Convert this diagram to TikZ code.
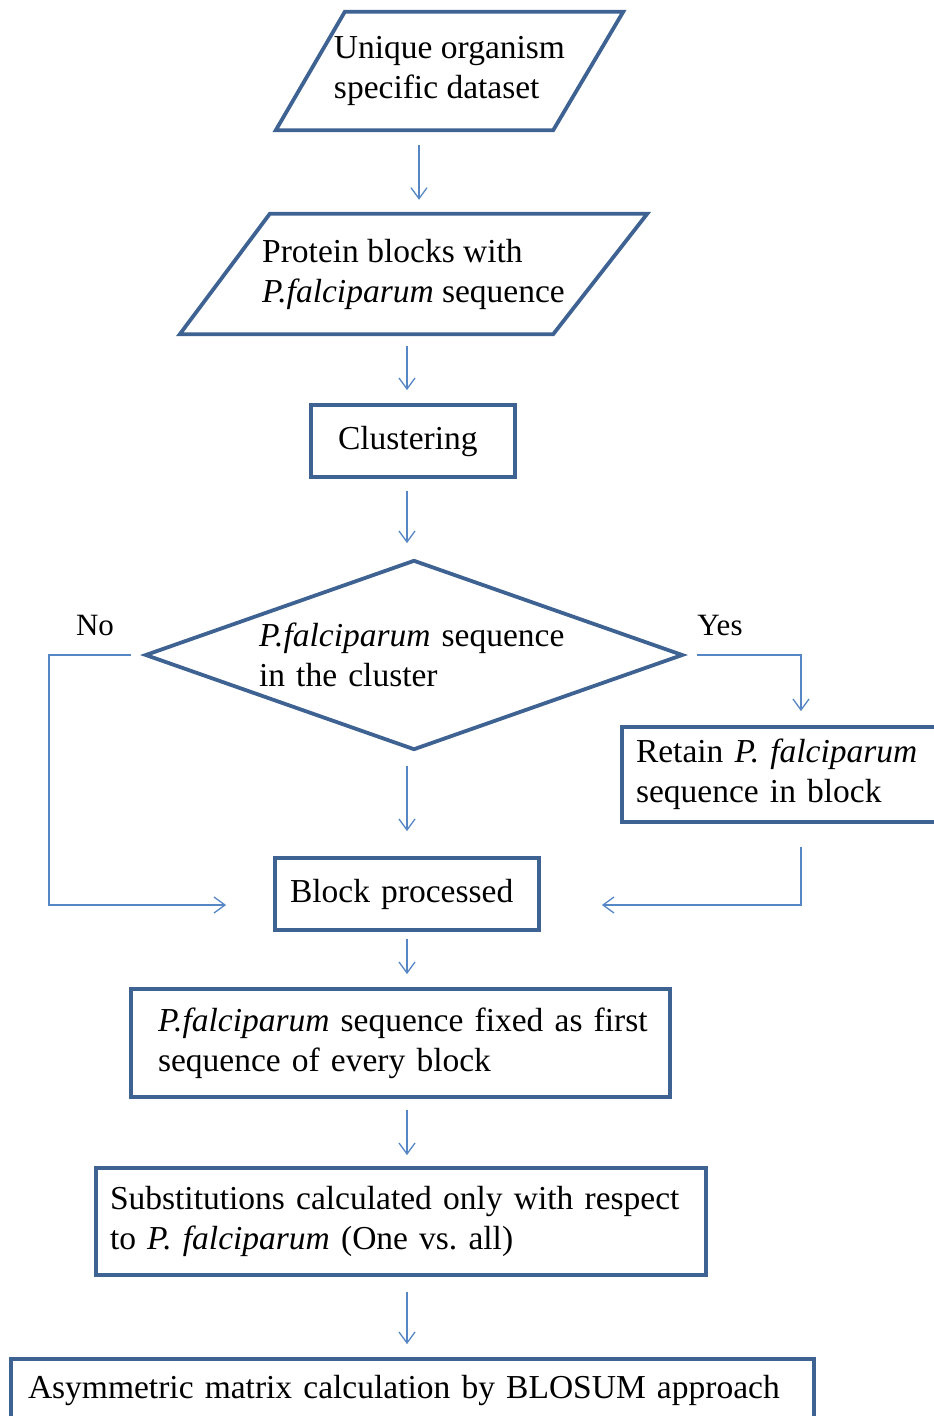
\documentclass[tikz,border=0pt]{standalone}
\usepackage{fontspec}
\setmainfont{Liberation Serif}
\usetikzlibrary{shapes.geometric,arrows.meta,calc}
\definecolor{boxblue}{RGB}{62,98,145}
\definecolor{flowblue}{RGB}{86,134,196}
% keep each written line on one line, however tight the text width
\newcommand{\oneline}[1]{\mbox{#1}}
\frenchspacing
\begin{document}
\begin{tikzpicture}[x=1pt,y=-1pt,
  every node/.style={font=\fontsize{33.5}{40}\selectfont, inner sep=0pt},
  boxline/.style={draw=boxblue, line width=3.8pt, line join=miter},
  iotext/.style={rectangle, align=left},
  proc/.style={boxline, rectangle, align=left},
  decision/.style={boxline, diamond, shape aspect=2.83, align=left},
  flow/.style={draw=flowblue, line width=1.3pt,
    -{Straight Barb[length=11pt,width=16pt,line width=1.3pt]}},
  lbl/.style={font=\fontsize{31}{36}\selectfont}]
\useasboundingbox (0,0) rectangle (934,1416);

% columns for the connectors
\coordinate (colA) at (419,0);
\coordinate (colB) at (407,0);
\coordinate (colNo) at (49,0);
\coordinate (colYes) at (801,0);

% input parallelograms: text node plus its slanted outline
\node[iotext, minimum width=347, minimum height=118] (d1) at (449.5,71)
  {Unique organism\\specific dataset};
\draw[boxline] (d1.south west) -- ([xshift=69pt]d1.north west)
  -- (d1.north east) -- ([xshift=-70pt]d1.south east) -- cycle;
\node[iotext, minimum width=467, minimum height=120] (d2) at (413.5,274)
  {Protein blocks with\\\textit{P.falciparum} sequence};
\draw[boxline] (d2.south west) -- ([xshift=90pt]d2.north west)
  -- (d2.north east) -- ([xshift=-94pt]d2.south east) -- cycle;

% processing steps
\node[proc, minimum width=204, minimum height=72, text width=150] (cl) at (413,441)
  {\oneline{Clustering}};
\node[decision, minimum width=538, minimum height=190, text width=310] (dia) at (414,655)
  {\oneline{\textit{P.falciparum} sequence}\\\oneline{in the cluster}};
\node[proc, minimum width=336, minimum height=95, text width=308] (rt) at (790,774.5)
  {\oneline{Retain \textit{P. falciparum}}\\\oneline{sequence in block}};
\node[proc, minimum width=264, minimum height=72, text width=234] (blk) at (407,894)
  {\oneline{Block processed}};
\node[proc, minimum width=539, minimum height=108, text width=485] (fx) at (400.5,1043)
  {\oneline{\textit{P.falciparum} sequence fixed as first}\\\oneline{sequence of every block}};
\node[proc, minimum width=610, minimum height=107, text width=582] (sb) at (401,1221.5)
  {\oneline{Substitutions calculated only with respect}\\\oneline{to \textit{P. falciparum} (One vs. all)}};
\node[proc, minimum width=803, minimum height=62, text width=769] (ls) at (412.5,1390)
  {\oneline{Asymmetric matrix calculation by BLOSUM approach}};

% branch labels
\node[lbl] (no) at (95,625) {No};
\node[lbl] (yes) at (720,625) {Yes};

% main flow
\draw[flow, shorten <=15pt, shorten >=14pt] (d1.south -| colA) -- (d2.north -| colA);
\draw[flow, shorten <=12pt, shorten >=13pt] (d2.south -| colB) -- (cl.north -| colB);
\draw[flow, shorten <=12pt, shorten >=15pt] (cl.south -| colB) -- (dia.north -| colB);
\draw[flow, shorten <=14pt, shorten >=25pt] (dia.south -| colB) -- (blk.north -| colB);
\draw[flow, shorten <=7pt, shorten >=13pt] (blk.south -| colB) -- (fx.north -| colB);
\draw[flow, shorten <=11pt, shorten >=11pt] (fx.south -| colB) -- (sb.north -| colB);
\draw[flow, shorten <=15pt, shorten >=13pt] (sb.south -| colB) -- (ls.north -| colB);

% decision branches
\draw[flow] ([xshift=-12pt]dia.west) -- (dia.west -| colNo)
  -- ([yshift=-11pt]colNo |- blk.west) -- ([xshift=-47pt,yshift=-11pt]blk.west);
\draw[flow] ([xshift=12pt]dia.east) -- (dia.east -| colYes)
  -- ([yshift=14pt]colYes |- rt.north);
\draw[flow] ([yshift=-23pt]colYes |- rt.south) -- ([yshift=-11pt]colYes |- blk.east)
  -- ([xshift=61pt,yshift=-11pt]blk.east);
\end{tikzpicture}
\end{document}
